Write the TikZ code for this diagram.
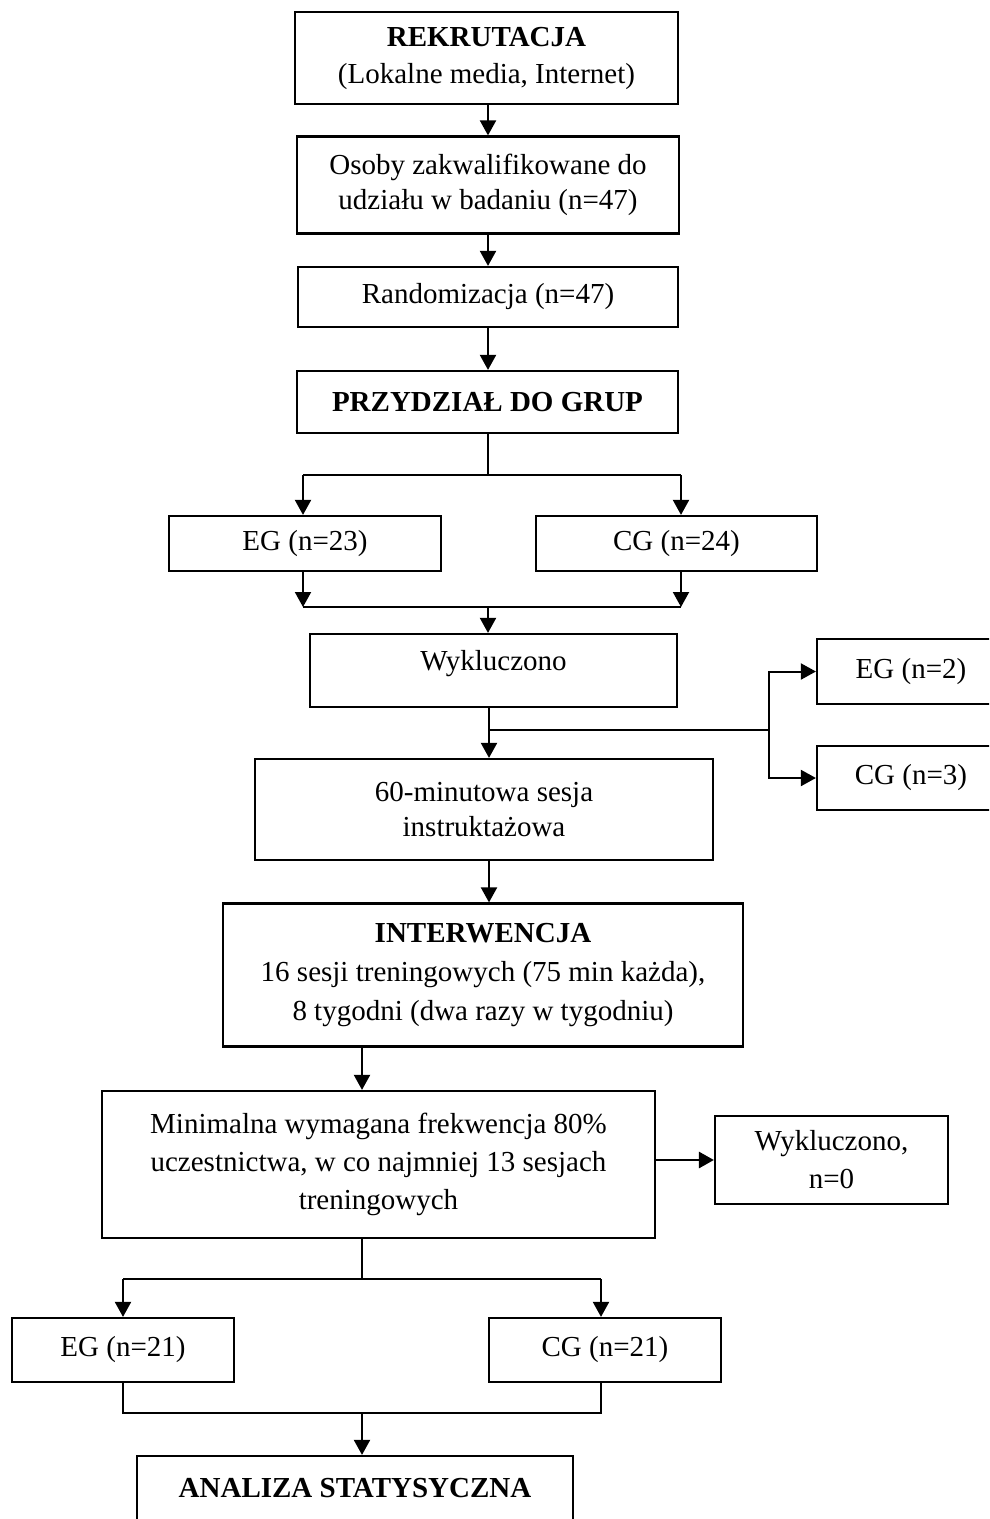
\documentclass[tikz,border=0pt]{standalone}
\usepackage{fontspec}
\setmainfont{Liberation Serif}
\usetikzlibrary{arrows.meta}
\begin{document}
\begin{tikzpicture}[x=1pt,y=-1pt,
  box/.style={draw, line width=2.2pt, inner sep=0pt, align=center, font=\fontsize{29}{37}\selectfont},
  txt/.style={inner sep=0pt, align=center, font=\fontsize{29}{37}\selectfont},
  conn/.style={line width=2pt},
  arr/.style={conn, -{Triangle[length=15pt,width=16pt]}},
]
\clip (0,0) rectangle (989,1519);
\fill[white] (0,0) rectangle (989,1519);

% boxes
\node[box, minimum width=383, minimum height=92] (rek) at (486.5,58) {\textbf{REKRUTACJA}\\(Lokalne media, Internet)};
\node[box, minimum width=382, minimum height=97, font=\fontsize{29}{35}\selectfont] (oso) at (488,185) {Osoby zakwalifikowane do\\udziału w badaniu (n=47)};
\node[box, minimum width=380, minimum height=60] (ran) at (488,297) {Randomizacja (n=47)};
\node[box, minimum width=381, minimum height=62] (prz) at (487.5,402) {\textbf{PRZYDZIAŁ DO GRUP}};
\node[box, minimum width=272, minimum height=55] (eg1) at (305,543.5) {EG (n=23)};
\node[box, minimum width=281, minimum height=55] (cg1) at (676.5,543.5) {CG (n=24)};
\node[box, minimum width=367, minimum height=73] (wyk) at (493.5,670.5) {};
\node[txt] (wykt) at (493.5,664) {Wykluczono};
\node[box, minimum width=188, minimum height=65] (eg2) at (911,671.5) {EG (n=2)};
\node[box, minimum width=188, minimum height=64] (cg2) at (911,778) {CG (n=3)};
\node[box, minimum width=458, minimum height=101, font=\fontsize{29}{35}\selectfont] (six) at (484,809.5) {60-minutowa sesja\\instruktażowa};
\node[box, minimum width=520, minimum height=143, font=\fontsize{29}{39}\selectfont] (int) at (483,975) {\textbf{INTERWENCJA}\\16 sesji treningowych (75 min każda),\\8 tygodni (dwa razy w tygodniu)};
\node[box, minimum width=553, minimum height=147, font=\fontsize{29}{38}\selectfont] (min) at (378.5,1164.5) {Minimalna wymagana frekwencja 80\%\\uczestnictwa, w co najmniej 13 sesjach\\treningowych};
\node[box, minimum width=233, minimum height=88, font=\fontsize{29}{38}\selectfont] (wyk0) at (831.5,1160) {Wykluczono,\\n=0};
\node[box, minimum width=222, minimum height=64] (eg3) at (123,1350) {EG (n=21)};
\node[box, minimum width=232, minimum height=64] (cg3) at (605,1350) {CG (n=21)};
\node[box, minimum width=436, minimum height=104] (an) at (355,1508) {};
\node[txt] (ant) at (355,1488) {\textbf{ANALIZA STATYSYCZNA}};

% helper coordinates
\coordinate (c488) at (488,0);
\coordinate (s1) at (488,475);
\coordinate (s1l) at (303,475);
\coordinate (s1r) at (681,475);
\coordinate (m1) at (488,607);
\coordinate (m1l) at (303,607);
\coordinate (m1r) at (681,607);
\coordinate (b1) at (489,730);
\coordinate (b1r) at (769,730);
\coordinate (c362) at (362,0);
\coordinate (s2) at (362,1279);
\coordinate (s2l) at (123,1279);
\coordinate (s2r) at (601,1279);
\coordinate (m2) at (362,1413);
\coordinate (m2l) at (123,1413);
\coordinate (m2r) at (601,1413);

% connectors
\draw[arr] (rek.south -| c488) -- (oso.north -| c488);
\draw[arr] (oso.south -| c488) -- (ran.north -| c488);
\draw[arr] (ran.south -| c488) -- (prz.north -| c488);
\draw[conn] (prz.south -| s1) -- (s1);
\draw[conn] (s1l) -- (s1r);
\draw[arr] (s1l) -- (s1l |- eg1.north);
\draw[arr] (s1r) -- (s1r |- cg1.north);
\draw[arr] (eg1.south -| m1l) -- (m1l);
\draw[arr] (cg1.south -| m1r) -- (m1r);
\draw[conn] (m1l) -- (m1r);
\draw[arr] (m1) -- (m1 |- wyk.north);
\draw[conn] (b1) -- (b1r);
\draw[arr] (wyk.south -| b1) -- (b1 |- six.north);
\draw[arr] (b1r) |- (eg2.west);
\draw[arr] (b1r) |- (cg2.west);
\draw[arr] (six.south -| b1) -- (b1 |- int.north);
\draw[arr] (int.south -| c362) -- (min.north -| c362);
\draw[arr, line width=2.8pt] (min.east |- wyk0.west) -- (wyk0.west);
\draw[conn] (min.south -| s2) -- (s2);
\draw[conn] (s2l) -- (s2r);
\draw[arr] (s2l) -- (s2l |- eg3.north);
\draw[arr] (s2r) -- (s2r |- cg3.north);
\draw[conn] (eg3.south -| m2l) -- (m2l) -- (m2r) -- (cg3.south -| m2r);
\draw[arr] (m2) -- (m2 |- an.north);
\end{tikzpicture}
\end{document}
